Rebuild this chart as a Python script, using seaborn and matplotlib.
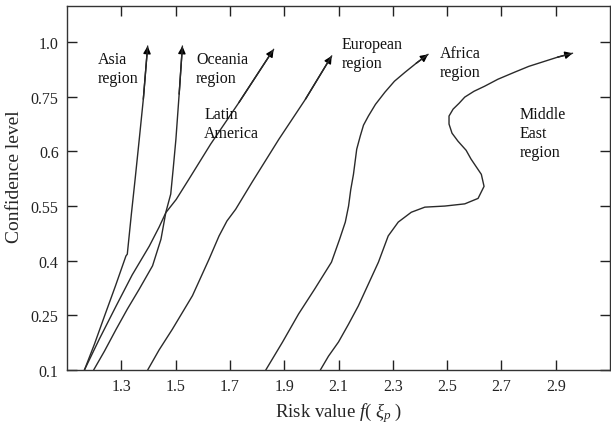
import numpy as np
import seaborn as sns
import matplotlib
matplotlib.use("Agg")
import matplotlib.pyplot as plt
from matplotlib.patches import FancyArrowPatch

# confidence level ticks (drawn evenly spaced on the axis)
conf_levels = [0.1, 0.25, 0.4, 0.55, 0.6, 0.75, 1.0]
risk_ticks = [1.3, 1.5, 1.7, 1.9, 2.1, 2.3, 2.5, 2.7, 2.9]

# curves: risk value vs confidence level
asia_x = [1.164, 1.201, 1.238, 1.278, 1.317, 1.322, 1.337, 1.351, 1.366, 1.381, 1.397]
asia_y = [0.100, 0.171, 0.248, 0.330, 0.413, 0.418, 0.528, 0.575, 0.633, 0.743, 0.982]

oceania_x = [1.198, 1.238, 1.281, 1.322, 1.366, 1.415, 1.446, 1.464, 1.482, 1.491, 1.501, 1.513, 1.525]
oceania_y = [0.100, 0.152, 0.212, 0.267, 0.322, 0.386, 0.459, 0.533, 0.561, 0.584, 0.633, 0.762, 0.982]

latin_x = [1.164, 1.219, 1.281, 1.340, 1.403, 1.439, 1.464, 1.502, 1.550, 1.629, 1.733, 1.861]
latin_y = [0.100, 0.185, 0.276, 0.361, 0.440, 0.492, 0.532, 0.556, 0.575, 0.620, 0.734, 0.967]

europe_x = [1.397, 1.439, 1.488, 1.562, 1.623, 1.660, 1.689, 1.721, 1.782, 1.880, 1.978, 2.075]
europe_y = [0.100, 0.155, 0.212, 0.304, 0.404, 0.468, 0.509, 0.541, 0.572, 0.633, 0.743, 0.937]

africa_x = [1.832, 1.894, 1.953, 2.012, 2.074, 2.104, 2.125, 2.137, 2.145, 2.155, 2.167, 2.180,
            2.192, 2.210, 2.236, 2.271, 2.306, 2.345, 2.386, 2.430]
africa_y = [0.100, 0.177, 0.254, 0.322, 0.396, 0.459, 0.506, 0.550, 0.565, 0.579, 0.606, 0.642,
            0.672, 0.697, 0.729, 0.771, 0.821, 0.862, 0.903, 0.944]

mideast_x = [2.033, 2.063, 2.100, 2.137, 2.173, 2.210, 2.247, 2.283, 2.320, 2.368, 2.418, 2.492,
             2.565, 2.614, 2.636, 2.626, 2.588, 2.570, 2.540, 2.518, 2.507, 2.507, 2.522, 2.544,
             2.565, 2.599, 2.638, 2.687, 2.748, 2.801, 2.859, 2.907, 2.962]
mideast_y = [0.100, 0.138, 0.177, 0.226, 0.276, 0.336, 0.396, 0.468, 0.506, 0.533, 0.547, 0.550,
             0.552, 0.557, 0.568, 0.579, 0.593, 0.603, 0.628, 0.650, 0.675, 0.697, 0.716, 0.732,
             0.749, 0.775, 0.798, 0.830, 0.862, 0.889, 0.912, 0.931, 0.949]

curves = [(asia_x, asia_y), (oceania_x, oceania_y), (latin_x, latin_y),
          (europe_x, europe_y), (africa_x, africa_y), (mideast_x, mideast_y)]

labels = ["Asia\nregion", "Oceania\nregion", "Latin\nAmerica",
          "European\nregion", "Africa\nregion", "Middle\nEast\nregion"]
label_x = [1.212, 1.575, 1.605, 2.111, 2.474, 2.768]
label_y = [0.958, 0.958, 0.724, 1.026, 0.985, 0.724]

sns.set_style("ticks")
plt.rcParams['font.family'] = ['Liberation Serif', 'DejaVu Serif']
plt.rcParams['mathtext.fontset'] = 'custom'
plt.rcParams['mathtext.rm'] = 'Liberation Serif'
plt.rcParams['mathtext.it'] = 'Liberation Serif:italic'

# even spacing of the confidence ticks
lv_ext = [-0.05] + conf_levels + [1.25]
idx_ext = list(range(-1, len(conf_levels) + 1))


def fwd(y):
    return np.interp(y, lv_ext, idx_ext)


def inv(i):
    return np.interp(i, idx_ext, lv_ext)


fig = plt.figure(figsize=(6.11, 4.27), dpi=100)
ax = fig.add_axes([0.1097, 0.1311, 0.8887, 0.8525])
ax.set_yscale('function', functions=(fwd, inv))

line_col = '#2a2a2a'
for xs, ys in curves:
    sns.lineplot(x=xs, y=ys, sort=False, estimator=None, color=line_col, lw=1.0, ax=ax)
    arr = FancyArrowPatch((xs[-2], ys[-2]), (xs[-1], ys[-1]), arrowstyle='-|>',
                          mutation_scale=11, color='black', lw=1.0, shrinkA=0, shrinkB=0)
    ax.add_patch(arr)

for txt, tx, ty in zip(labels, label_x, label_y):
    ax.text(tx, ty, txt, ha='left', va='top', fontsize=11.5, linespacing=1.25, color='#111111')

ax.set_xlim(1.1, 3.1)
ax.set_ylim(0.1, inv(6.66))
ax.set_xticks(risk_ticks)
ax.set_xticklabels([f"{t:.1f}" for t in risk_ticks])
ax.set_yticks(conf_levels)
ax.set_yticklabels(["0.1", "0.25", "0.4", "0.55", "0.6", "0.75", "1.0"])
ax.minorticks_off()

ax.tick_params(direction='in', length=7, width=1, top=True, right=True,
               labelsize=11.5, colors='#222222', pad=6)
for s in ax.spines.values():
    s.set_color('#333333')
    s.set_linewidth(1.0)

ax.set_xlabel(r"Risk value $f(\ \xi_p\ )$", fontsize=13.5, labelpad=4)
ax.set_ylabel("Confidence level", fontsize=14)
ax.yaxis.set_label_coords(-0.081, 0.533)

fig.savefig("out.png", dpi=100)
